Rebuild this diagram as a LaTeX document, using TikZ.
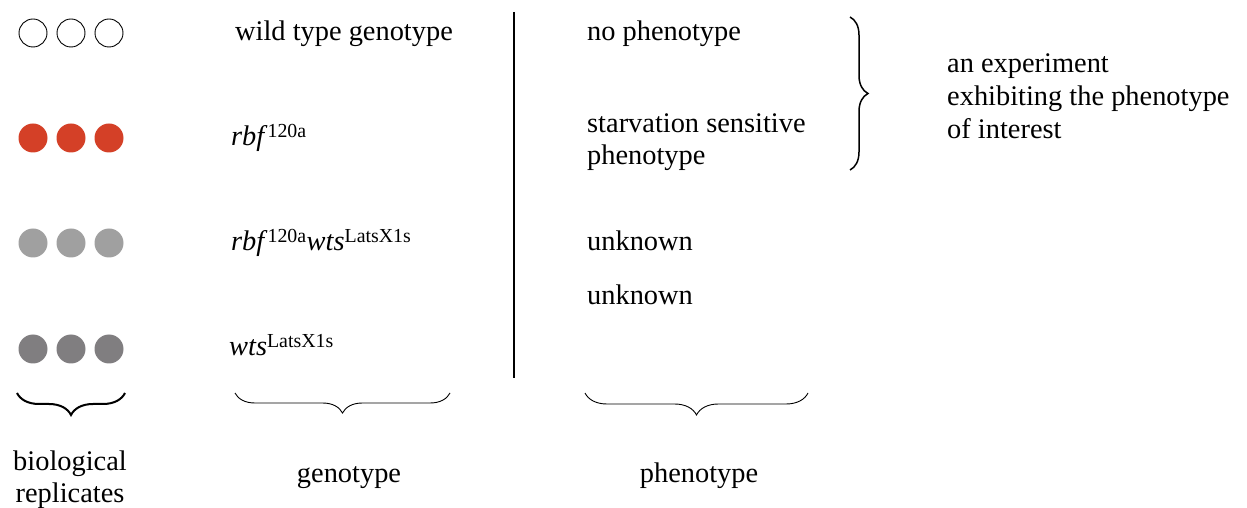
\documentclass[tikz,border=0pt]{standalone}
\usepackage{fontspec}
\setmainfont{Liberation Serif}
\usetikzlibrary{decorations.pathreplacing}
\definecolor{mutred}{HTML}{D44027}
\definecolor{lightrep}{HTML}{A0A0A0}
\definecolor{darkrep}{HTML}{807E80}
\begin{document}
\begin{tikzpicture}[x=1bp, y=-1bp,
  rep/.style={circle, minimum size=29bp, inner sep=0pt},
  openrep/.style={rep, draw=black, line width=0.9bp, minimum size=28bp},
  txt/.style={anchor=base west, inner sep=0pt, font=\fontsize{28.5}{34}\selectfont},
  ctxt/.style={anchor=base, inner sep=0pt, align=center, font=\fontsize{28.5}{32}\selectfont},
  bracket/.style={decorate, decoration={brace, amplitude=#1, aspect=0.5}},
]
\useasboundingbox (0,0) rectangle (1247,508);

% replicate dots
\foreach \x [count=\i] in {33,71,109} {
  \node[openrep] (wt\i) at (\x,33) {};
  \node[rep, fill=mutred] (rb\i) at (\x,138) {};
  \node[rep, fill=lightrep] (rw\i) at (\x,243) {};
  \node[rep, fill=darkrep] (ws\i) at (\x,349) {};
}

% genotypes
\node[txt] (g1) at (235,41) {wild type genotype};
\node[txt] (g2) at (231,146) {\textit{rbf}\textsuperscript{120a}};
\node[txt] (g3) at (231,251) {\textit{rbf}\textsuperscript{120a}\textit{wts}\textsuperscript{LatsX1s}};
\node[txt] (g4) at (229,356) {\textit{wts}\textsuperscript{LatsX1s}};

% separator
\coordinate (sepT) at (514,12);
\coordinate (sepB) at (514,378);
\draw[line width=2bp] (sepT) -- (sepB);

% phenotypes
\node[txt] (p1) at (587,41) {no phenotype};
\node[txt] (p2) at (587,133) {starvation sensitive};
\node[txt] (p2b) at (587,165) {phenotype};
\node[txt] (p3) at (587,251) {unknown};
\node[txt] (p4) at (587,305) {unknown};

% brace for the phenotype of interest
\coordinate (rbT) at (850,17);
\coordinate (rbB) at (850,170);
\draw[bracket=18bp, line width=1.5bp] (rbT) -- (rbB);
\node[txt, font=\fontsize{28.5}{33.5}\selectfont, align=left] (exp) at (947,139)
  {an experiment\\exhibiting the phenotype\\of interest};

% bottom braces
\coordinate (bl1) at (17,393);
\coordinate (bl2) at (125,393);
\draw[bracket=22bp, line width=2bp] (bl2) -- (bl1);
\coordinate (gl1) at (235,393);
\coordinate (gl2) at (450,393);
\draw[bracket=20bp, line width=0.9bp] (gl2) -- (gl1);
\coordinate (pl1) at (585,393);
\coordinate (pl2) at (808,393);
\draw[bracket=22bp, line width=0.9bp] (pl2) -- (pl1);

% captions
\node[ctxt] (cap1) at (70,502) {biological\\replicates};
\node[ctxt] (cap2) at (349,482) {genotype};
\node[ctxt] (cap3) at (699,482) {phenotype};
\end{tikzpicture}
\end{document}
